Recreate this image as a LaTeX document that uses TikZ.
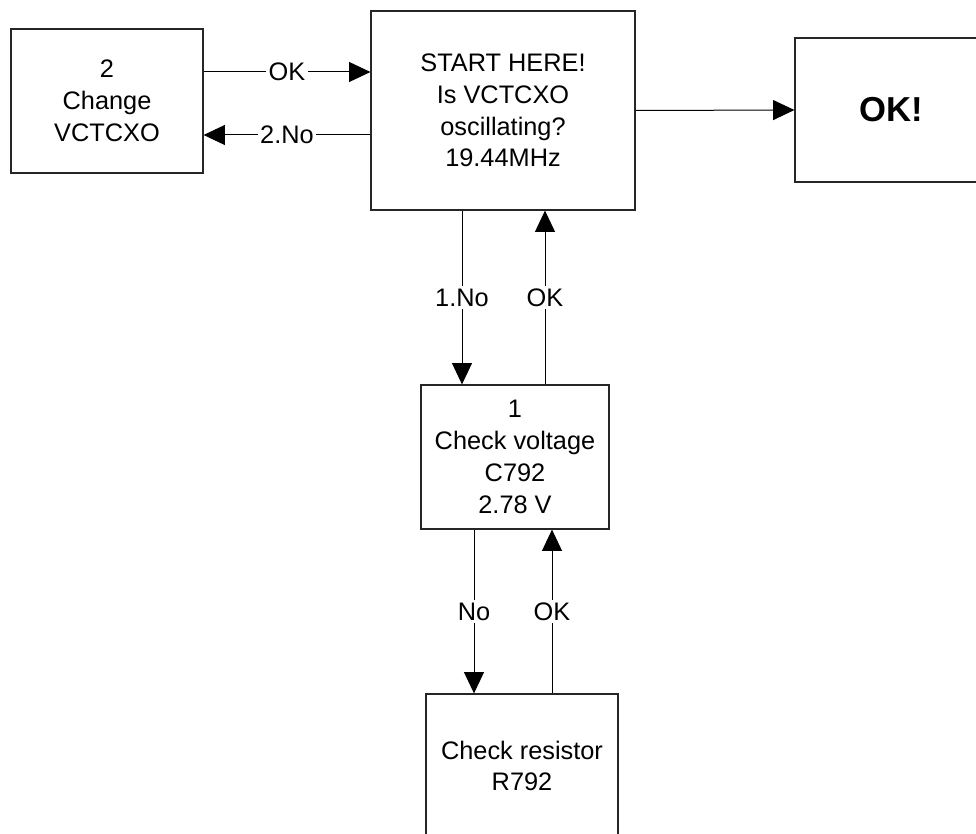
\documentclass[tikz,border=0pt]{standalone}
\usepackage{fontspec}
\setmainfont{Liberation Sans}
\usetikzlibrary{arrows.meta}
\begin{document}
\begin{tikzpicture}[x=0.75pt,y=-0.75pt,
  box/.style={draw=black!85, line width=0.9pt, inner sep=0pt, align=center,
    font=\fontsize{19pt}{23.8pt}\selectfont},
  conn/.style={line width=0.75pt, draw=black},
  arr/.style={conn, -{Triangle[length=16pt,width=15pt]}},
  lbl/.style={fill=white, inner sep=2pt, font=\fontsize{19pt}{23.8pt}\selectfont}
]
\useasboundingbox (0,0) rectangle (976,834);
\clip (0,0) rectangle (976,834);
\fill[white] (0,0) rectangle (976,834);

\node[box, minimum width=144pt, minimum height=108pt] (chg) at (107,101) {2\\Change\\VCTCXO};
\node[box, minimum width=198pt, minimum height=149.25pt] (start) at (503,110.5) {START HERE!\\Is VCTCXO\\oscillating?\\19.44MHz};
\node[box, minimum width=144pt, minimum height=108pt, font=\fontsize{26pt}{30pt}\selectfont\bfseries] (ok) at (891,110) {OK!};
\node[box, minimum width=141pt, minimum height=108pt] (volt) at (515,457) {1\\Check voltage\\C792\\2.78 V};
\node[box, minimum width=144pt, minimum height=108pt] (res) at (522,766) {Check resistor\\R792};

\draw[arr] (chg.east |- 0,72) -- node[lbl] {OK} (start.west |- 0,72);
\draw[arr] (start.west |- 0,135) -- node[lbl] {2.No} (chg.east |- 0,135);
\draw[arr] (start.east) -- (ok.west);
\draw[arr] (start.south -| 462,0) -- node[lbl] {1.No} (volt.north -| 462,0);
\draw[arr] (volt.north -| 545,0) -- node[lbl] {OK} (start.south -| 545,0);
\draw[arr] (volt.south -| 474,0) -- node[lbl] {No} (res.north -| 474,0);
\draw[arr] (res.north -| 552,0) -- node[lbl] {OK} (volt.south -| 552,0);
\end{tikzpicture}
\end{document}
